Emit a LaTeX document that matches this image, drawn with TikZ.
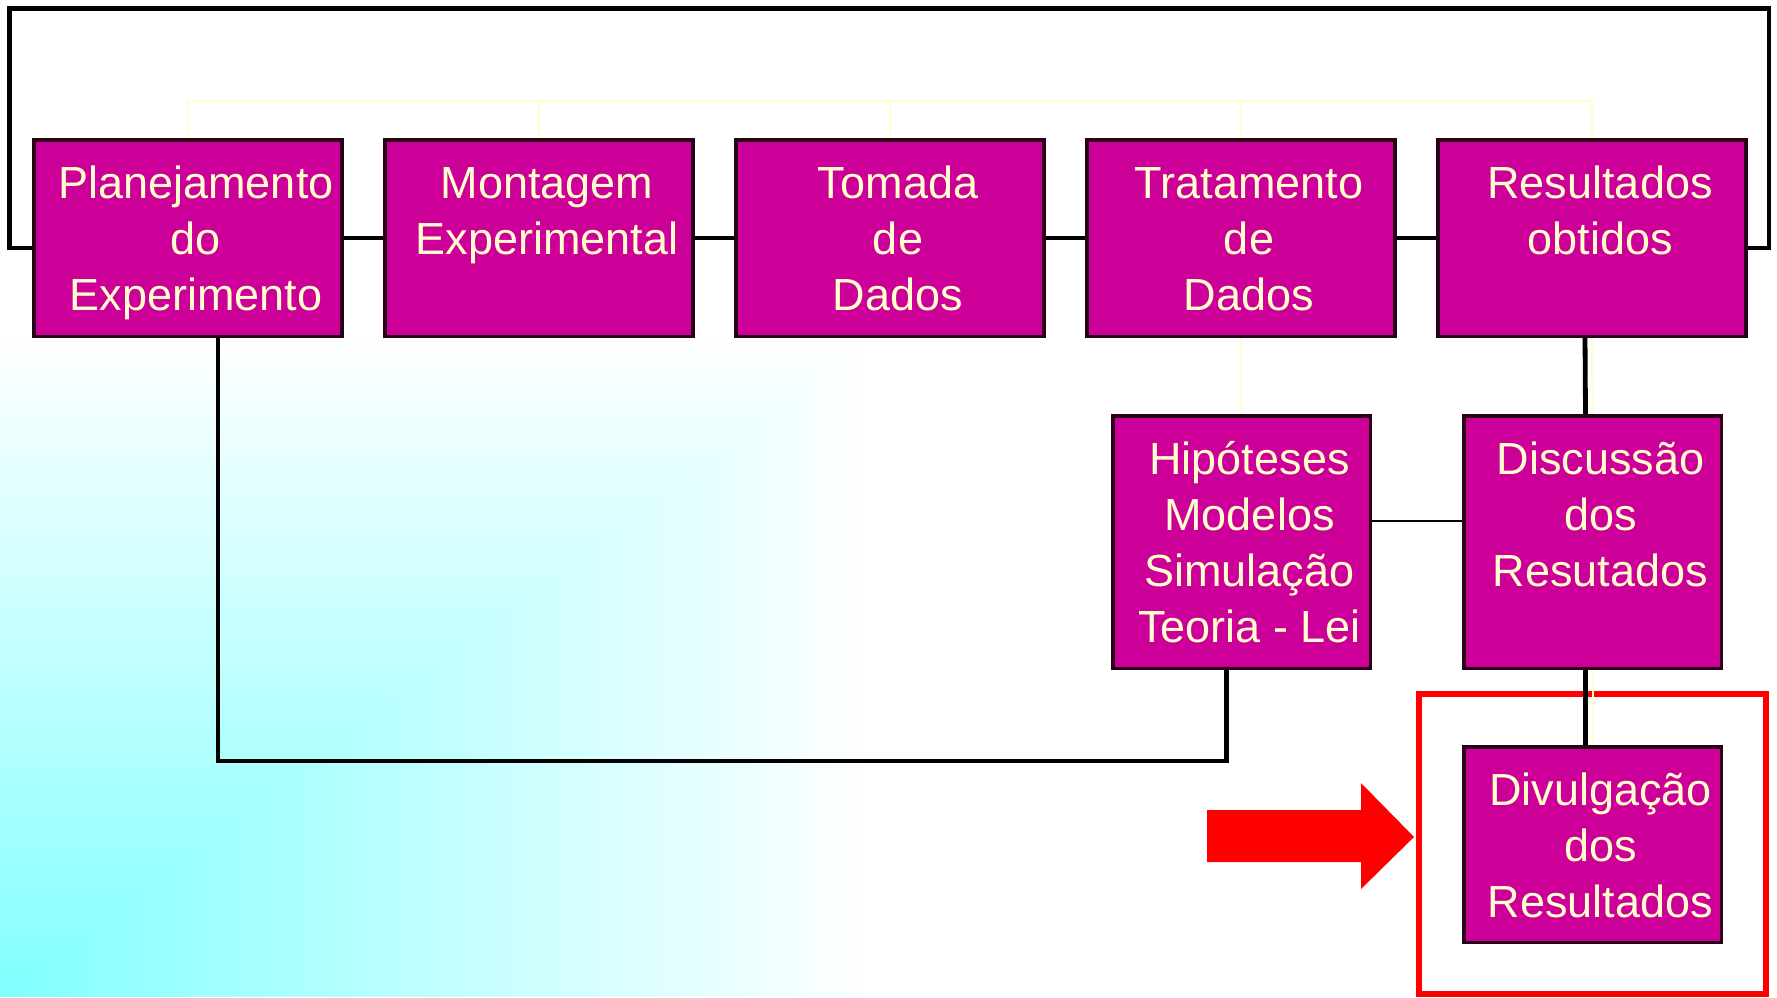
\documentclass[tikz,border=0pt]{standalone}
\usepackage{fontspec}
\setmainfont{Liberation Sans}
\definecolor{boxfill}{HTML}{CC0099}
\definecolor{boxline}{HTML}{2A0018}
\definecolor{txtc}{HTML}{FFFFCC}
\definecolor{ylwc}{HTML}{FFFFCC}
\definecolor{bgcyan}{HTML}{80FFFF}
\definecolor{redc}{HTML}{FF0000}
\pgfdeclarelayer{bglayer}
\pgfdeclarelayer{linelayer}
\pgfsetlayers{bglayer,linelayer,main}
\newcommand\btext[3]{\parbox[c][#2][t]{#1}{\centering\leftskip=16pt plus 1fil\rule{0pt}{59pt}#3}}
\begin{document}
\begin{tikzpicture}[x=1pt,y=-1pt,
  pbox/.style={draw=boxline, line width=3.5pt, fill=boxfill, inner sep=0pt, outer sep=0pt,
    text=txtc, font=\fontsize{45}{56}\selectfont},
  blk/.style={draw=black, line width=4.8pt},
  thinblk/.style={draw=black, line width=1.6pt},
  ylw/.style={draw=ylwc, line width=2pt},
  redframe/.style={draw=redc, line width=6pt}]
\useasboundingbox (0,0) rectangle (1777,997);
% boxes
\node[pbox] (b1) at (188,238) {\btext{308pt}{196.5pt}{Planejamento\\do\\Experimento}};
\node[pbox] (b2) at (539,238) {\btext{308pt}{196.5pt}{Montagem\\Experimental}};
\node[pbox] (b3) at (890,238) {\btext{308pt}{196.5pt}{Tomada\\de\\Dados}};
\node[pbox] (b4) at (1241,238) {\btext{308pt}{196.5pt}{Tratamento\\de\\Dados}};
\node[pbox] (b5) at (1592,238) {\btext{308pt}{196.5pt}{Resultados\\obtidos}};
\node[pbox] (hip) at (1241.5,542) {\btext{257.5pt}{252.5pt}{Hipóteses\\Modelos\\Simulação\\Teoria - Lei}};
\node[pbox] (disc) at (1592.5,542) {\btext{257.5pt}{252.5pt}{Discussão\\dos\\Resutados}};
\node[pbox] (div) at (1592.5,844.5) {\btext{257.5pt}{195.5pt}{Divulgação\\dos\\Resultados}};
% helper coordinates
\coordinate (ytop) at (0,101);
\coordinate (lt) at (9.5,8.5);
\coordinate (rt) at (1769,8.5);
\coordinate (ybot) at (0,761);
\begin{pgfonlayer}{bglayer}
  \fill[white] (0,0) rectangle (1777,997);
  % background gradient from the lower left corner
  \foreach \i in {0,...,59}{
    \pgfmathsetmacro\t{1-\i/60}
    \pgfmathsetmacro\p{100*\i/60}
    \fill[bgcyan!\p!white] (0,997) rectangle ({880*\t},{997-667*\t});
  }
  % red frame
  \draw[redframe] (1419,694) rectangle (1766,994);
\end{pgfonlayer}
\begin{pgfonlayer}{linelayer}
  % yellow lines
  \draw[ylw] (b1.north) -- (b1.north |- ytop) -- (b5.north |- ytop) -- (b5.north);
  \draw[ylw] (b2.north) -- (b2.north |- ytop);
  \draw[ylw] (b3.north) -- (b3.north |- ytop);
  \draw[ylw] (b4.north) -- (b4.north |- ytop);
  \draw[ylw] (b4.south) -- (hip.north);
  \draw[ylw] (b5.south) -- (disc.north);
  \draw[ylw] (disc.south) -- (div.north);
  % black connectors
  \draw[blk] (b1.east) -- (b2.west);
  \draw[blk] (b2.east) -- (b3.west);
  \draw[blk] (b3.east) -- (b4.west);
  \draw[blk] (b4.east) -- (b5.west);
  \draw[blk] ([yshift=-10pt]b1.west) -| (lt) -- (rt) |- ([yshift=-10pt]b5.east);
  \draw[blk] ([xshift=30pt]b1.south) -- ([xshift=30pt]b1.south |- ybot) -| ([xshift=-15pt]hip.south);
  \draw[thinblk] ([yshift=21pt]hip.east) -- ([yshift=21pt]disc.west);
  \draw[blk] ([xshift=-7pt]b5.south) -- ([xshift=-7pt]disc.north);
  \draw[blk] ([xshift=-7pt]disc.south) -- ([xshift=-7pt]div.north);
\end{pgfonlayer}
% red arrow
\fill[redc] (1207,810) -- (1361,810) -- (1361,783) -- (1414,837) -- (1361,889) -- (1361,862) -- (1207,862) -- cycle;
\end{tikzpicture}
\end{document}
